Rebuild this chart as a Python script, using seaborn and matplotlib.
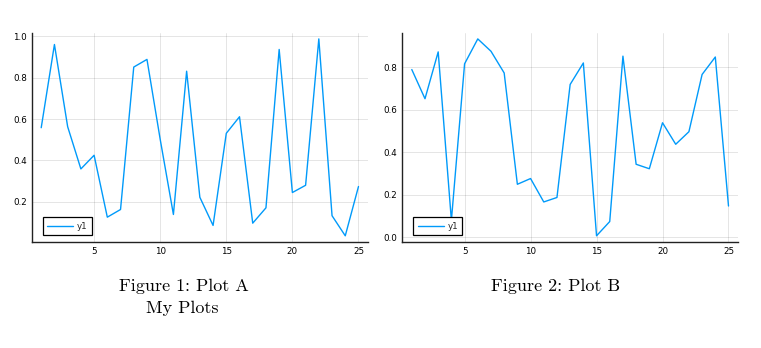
import matplotlib
matplotlib.use("Agg")
import matplotlib.pyplot as plt
import numpy as np
import pandas as pd
import seaborn as sns

# Sample index shared by both panels
x_vals = list(range(1, 26))

# Series for Plot A
plot_a = [0.558, 0.960, 0.563, 0.359, 0.425, 0.126, 0.163, 0.851, 0.888, 0.502,
          0.139, 0.831, 0.222, 0.086, 0.531, 0.611, 0.097, 0.171, 0.936, 0.245,
          0.280, 0.987, 0.133, 0.036, 0.274]

# Series for Plot B
plot_b = [0.789, 0.652, 0.872, 0.080, 0.816, 0.933, 0.875, 0.773, 0.250, 0.277,
          0.167, 0.188, 0.719, 0.820, 0.008, 0.075, 0.852, 0.344, 0.323, 0.539,
          0.438, 0.497, 0.766, 0.848, 0.148]

series_label = "y1"
xticks = [5, 10, 15, 20, 25]
yticks_a = [0.2, 0.4, 0.6, 0.8, 1.0]
yticks_b = [0.0, 0.2, 0.4, 0.6, 0.8]

sns.set_style("white")
plt.rcParams["font.family"] = ["DejaVu Sans"]

W, H = 761, 348
fig = plt.figure(figsize=(W / 100, H / 100), dpi=100)

line_color = "#009AFA"


def make_axes(left_px, right_px, top_px, bottom_px):
    return fig.add_axes([left_px / W, 1 - bottom_px / H,
                         (right_px - left_px) / W, (bottom_px - top_px) / H])


def draw_panel(ax, values, yticks):
    df = pd.DataFrame({"x": x_vals, "y": values})
    sns.lineplot(data=df, x="x", y="y", ax=ax, color=line_color,
                 linewidth=1.0, label=series_label)
    ax.margins(x=0.03, y=0.03)
    ax.set_xticks(xticks)
    ax.set_yticks(yticks)
    ax.set_yticklabels([f"{t:.1f}" for t in yticks])
    ax.set_xlabel("")
    ax.set_ylabel("")
    ax.grid(True, color="black", alpha=0.12, linewidth=0.6)
    for s in ("top", "right"):
        ax.spines[s].set_visible(False)
    for s in ("left", "bottom"):
        ax.spines[s].set_color("#222222")
        ax.spines[s].set_linewidth(1.0)
    ax.tick_params(direction="in", length=3, width=0.6, colors="#222222",
                   labelsize=6.3, pad=3.5, labelcolor="black")
    bw = ax.get_position().width * W
    bh = ax.get_position().height * H
    leg = ax.legend(loc="lower left", bbox_to_anchor=(11 / bw, 6.5 / bh),
                    borderaxespad=0, fontsize=6.3, frameon=True, fancybox=False,
                    handlelength=3.0, borderpad=0.5, handletextpad=0.4)
    frame = leg.get_frame()
    frame.set_edgecolor("black")
    frame.set_linewidth(0.9)
    frame.set_facecolor("white")
    frame.set_alpha(1)


ax_a = make_axes(31.7, 368, 33, 241.7)
ax_b = make_axes(402.3, 738, 33, 241.7)
draw_panel(ax_a, plot_a, yticks_a)
draw_panel(ax_b, plot_b, yticks_b)

# Captions under each panel
cap_kw = dict(ha="center", va="baseline", fontsize=13, family="cmr10", color="black")
fig.text(184 / W, 1 - 291 / H, "Figure 1: Plot A", **cap_kw)
fig.text(182 / W, 1 - 313 / H, "My Plots", **cap_kw)
fig.text(555.5 / W, 1 - 291 / H, "Figure 2: Plot B", **cap_kw)

fig.savefig("out.png", dpi=100, facecolor="white")
